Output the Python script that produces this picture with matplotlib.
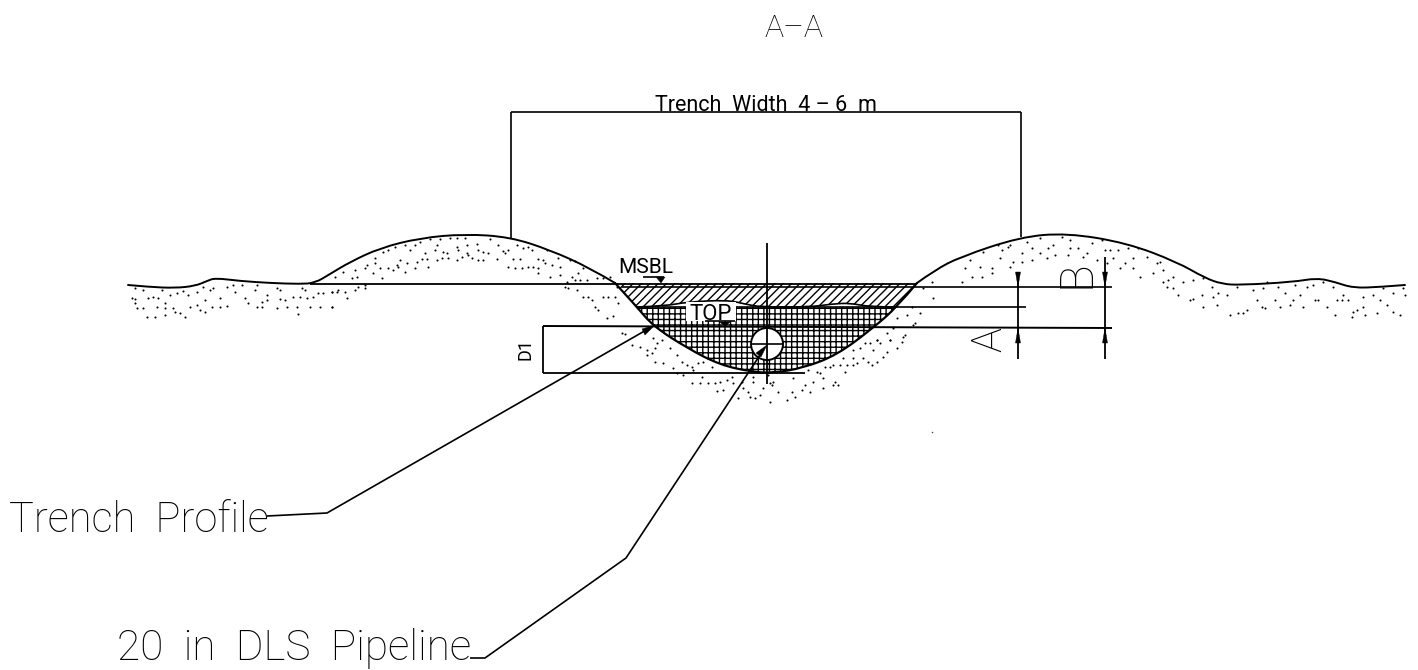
import numpy as np
import matplotlib
matplotlib.use("Agg")
import matplotlib.pyplot as plt
from matplotlib.path import Path
from matplotlib.patches import PathPatch, Polygon, Circle

plt.rcParams['hatch.linewidth'] = 1.0
FONT = ['Roboto', 'Liberation Sans', 'DejaVu Sans']

# ---- profile lines (image pixels) ----
ground_left = [(128, 285), (150, 287), (175, 288), (195, 286), (207, 281), (215, 278), (240, 281), (270, 283),
               (300, 284), (315, 283), (330, 274), (350, 262), (380, 248), (420, 238), (465, 234), (510, 237),
               (550, 250), (590, 268), (615, 283)]
trench = [(615, 283), (637, 307), (653, 326), (687, 348), (720, 365), (753, 372), (773, 373), (803, 368),
          (837, 355), (873, 328), (897, 307), (917, 283)]
ground_right = [(917, 283), (935, 270), (960, 257), (1020, 237), (1067, 233), (1127, 243), (1177, 262),
                (1205, 278), (1222, 284), (1240, 285), (1293, 282), (1317, 278), (1335, 282), (1353, 288),
                (1380, 287), (1405, 285)]
top_of_pipe_fill = [(637, 307), (665, 306), (687, 302), (727, 300), (745, 304), (760, 307), (810, 307),
                    (832, 304), (850, 303), (870, 307), (897, 307)]

dots_west_band = [(35,70),(45,85),(50,100),(70,100),(80,125),(105,125),(135,120),(85,70),(100,65),(115,70),(135,85),
                  (135,100),(160,100),(165,110),(180,115),(195,125),(150,60),(170,55),(190,48),(205,60),(210,95),
                  (230,90),(240,105),(255,110),(275,97),(300,97),(320,92),(300,70),(255,75),(270,45),(280,40),(320,35),
                  (340,30),(345,50),(365,30),(375,70),(385,85),(410,95),(425,95),(440,75),(405,45),(410,30),(480,72),
                  (495,75),(520,65),(540,65),(560,70),(580,65),(595,55),(610,55),(635,50),(655,45),(545,40),(555,45),
                  (470,40),(480,45),(470,98),(500,95),(530,95),(535,118),(570,97),(600,97),(635,97),(45,40),(70,45),
                  (125,45),(250,35),(230,50),(45,72),(110,95),(425,80),(440,60)]
dots_west_mound = [(15,125),(40,110),(65,130),(80,125),(75,105),(105,100),(110,90),(135,70),(135,85),(130,115),(155,130),
                   (150,100),(175,100),(190,105),(200,90),(210,75),(205,95),(230,85),(225,110),(255,100),(260,80),(275,72),
                   (290,72),(295,95),(320,75),(335,70),(355,70),(380,75),(395,65),(415,60),(425,70),(445,75),(460,75),
                   (500,72),(285,55),(240,45),(225,30),(195,35),(175,45),(160,50),(255,30),(270,20),(300,12),(330,12),
                   (360,10),(380,8),(405,10),(320,30),(315,45),(340,50),(350,55),(380,35),(385,45),(410,30),(410,55),
                   (440,28),(445,45),(460,50),(475,55),(480,12),(505,30),(520,48),(535,45),(525,55),(560,30),(580,40),
                   (595,35),(605,45),(550,72),(570,72),(625,72),(640,75),(650,45),(645,85),(665,90),(685,70),(690,95),
                   (690,120),(660,125),(535,97),(555,100),(575,100),(595,97),(610,97),(625,100),(625,115),(720,75),
                   (735,78),(760,100),(745,115),(725,125),(710,140),(735,135),(750,135),(770,135),(800,128),(820,130),
                   (840,125),(5,172),(20,172),(45,170),(50,190),(75,165),(85,155),(105,150),(105,160),(5,215),(705,155),
                   (715,160),(740,165),(760,185),(775,185),(785,195),(820,185),(835,185),(855,185),(795,215),(805,225),
                   (830,250),(850,242),(865,205),(860,155)]
dots_below = [(5,40),(15,42),(35,75),(60,82),(80,90),(80,105),(95,100),(105,85),(125,60),(100,55),(110,70),(150,85),
              (170,105),(105,125),(130,130),(160,145),(185,125),(200,135),(215,140),(220,150),(235,130),(250,125),
              (275,140),(170,160),(190,165),(245,170),(215,190),(240,190),(265,190),(285,190),(300,185),(320,180),
              (335,170),(340,190),(290,212),(310,210),(365,185),(370,205),(385,215),(400,170),(400,185),(355,235),
              (390,230),(405,235),(420,225),(430,205),(450,190),(460,185),(445,165),(455,195),(450,245),(475,215),
              (500,240),(515,215),(525,230),(545,210),(555,195),(520,175),(570,215),(580,185),(610,205),(640,195),
              (655,195),(645,185),(610,175),(590,155),(600,160),(565,150),(630,140),(615,140),(640,135),(660,135),
              (680,135),(700,135),(710,130),(675,155),(670,115),(700,115),(730,115),(745,125),(755,135),(770,125),
              (790,110),(800,95),(760,90),(750,70),(770,60),(780,70),(735,70),(720,85),(810,60),(830,85),(845,65),
              (855,45),(820,25),(885,10),(700,90)]
dots_mid = [(1150,320),(1180,285),(1200,250),(1160,255),(1210,175),(1235,155),(1240,205),(1110,330),(1120,290),
            (1100,310),(1070,330),(1130,265),(1175,230)]
dots_east = [(5,185),(35,170),(65,170),(95,160),(15,145),(60,140),(95,145),(30,120),(70,95),(115,75),(120,115),
             (150,140),(160,125),(145,80),(185,100),(200,65),(215,85),(215,120),(240,55),(265,85),(260,115),(285,105),
             (305,50),(330,60),(325,105),(355,85),(380,100),(395,70),(425,60),(435,90),(450,90),(475,90),(505,85),
             (535,85),(460,115),(495,130),(520,145),(540,170),(560,110),(590,130),(610,150),(580,160),(480,145),
             (610,185),(620,200),(640,170),(670,185),(700,180),(730,175),(640,205),(655,225),(690,240),(725,225),
             (730,260),(755,200),(775,220),(770,255),(800,225),(810,285),(835,280),(860,270),(830,200),(880,210),
             (910,205),(890,240),(915,265),(960,262),(990,255),(1030,260),(945,240),(975,220),(1005,195),(1040,200),
             (1060,195),(1075,240),(1100,260),(1120,200),(1150,225),(1125,285),(1175,290),(1215,285),(1250,280),
             (1190,270),(1210,260),(1280,255),(1300,275),(1320,285),(1260,240),(1300,220),(1335,225),(1270,205),
             (1240,225),(1210,230),(1165,240),(1130,240),(1090,185),(1020,225),(1000,240),(920,185),(955,200),
             (125,90),(150,75),(185,125),(240,100),(280,75),(330,85),(370,110),(410,120),(440,130),(520,115),(600,125),
             (625,180),(700,238),(760,230),(850,280),(905,262),(1065,240),(1145,240),(1180,275),(1330,205)]
dot_sets = [(dots_west_band, (120, 275)), (dots_west_mound, (330, 235)), (dots_below, (620, 320)),
            (dots_mid, (520, 230)), (dots_east, (960, 220))]

title = "A–A"
width_label = "Trench  Width  4 – 6  m"
seabed_label = "MSBL"
top_label = "TOP"
depth_label = "D1"
dim_a = "A"
dim_b = "B"
trench_label = "Trench  Profile"
pipe_label = "20  in  DLS  Pipeline"


def smooth(points):
    """Quadratic spline path with the read points as control points."""
    pts = [tuple(p) for p in points]
    verts, codes = [pts[0]], [Path.MOVETO]
    for i in range(1, len(pts) - 1):
        mid = ((pts[i][0] + pts[i + 1][0]) / 2, (pts[i][1] + pts[i + 1][1]) / 2)
        if i == len(pts) - 2:
            mid = pts[-1]
        verts += [pts[i], mid]
        codes += [Path.CURVE3, Path.CURVE3]
    return verts, codes


def curve(ax, pts, lw=1.4, **kw):
    v, c = smooth(pts)
    ax.add_patch(PathPatch(Path(v, c), fill=False, lw=lw, edgecolor='black', capstyle='round', **kw))


def line(ax, xs, ys, lw=1.2, z=4):
    ax.plot(xs, ys, color='black', lw=lw, solid_capstyle='butt', zorder=z)


def tri(ax, pts, z=6):
    ax.add_patch(Polygon(pts, closed=True, facecolor='black', edgecolor='black', lw=0.3, zorder=z))


fig = plt.figure(figsize=(14.18, 6.70), dpi=100)
ax = fig.add_axes([0, 0, 1, 1])
ax.set_xlim(0, 1418)
ax.set_ylim(670, 0)
ax.axis('off')

# stipple
for dots, (ox, oy) in dot_sets:
    arr = np.array(dots, dtype=float)
    ax.scatter(ox + arr[:, 0] / 3, oy + arr[:, 1] / 3, s=2.2, color='black', linewidths=0, zorder=2)
ax.scatter([932], [432], s=1.2, color='#444444', linewidths=0)

# hatched backfill
v_tr, c_tr = smooth(trench[1:-1])
v_top, c_top = smooth(top_of_pipe_fill)
lower = Path(v_tr + [(637, 307)], c_tr + [Path.LINETO])
ax.add_patch(PathPatch(lower, facecolor='none', edgecolor='black', hatch='+++', lw=0, zorder=3))
v_rev = [(615, 283)] + v_top + [(917, 283), (615, 283)]
c_rev = [Path.MOVETO, Path.LINETO] + c_top[1:] + [Path.LINETO, Path.CLOSEPOLY]
ax.add_patch(PathPatch(Path(v_rev, c_rev), facecolor='white', edgecolor='black', hatch='////', lw=0, zorder=3.2))
curve(ax, top_of_pipe_fill, lw=1.2, zorder=4)

# outlines
curve(ax, ground_left, zorder=5)
curve(ax, trench, lw=1.6, zorder=5)
curve(ax, ground_right, zorder=5)

# horizontals
line(ax, [310, 917], [284, 284], lw=1.3)
line(ax, [622, 1112], [287, 287], lw=1.2)
line(ax, [637, 1026], [307, 307], lw=1.2)
line(ax, [543, 1112], [326, 328], lw=1.4)
line(ax, [543, 805], [373, 373], lw=1.3)
line(ax, [543, 543], [326, 373], lw=1.3)

# top dimension
line(ax, [511, 1021], [112, 112], lw=1.2)
line(ax, [511, 511], [112, 238], lw=1.2)
line(ax, [1021, 1021], [112, 237], lw=1.2)

# pipe
ax.add_patch(Circle((767, 344), 16, facecolor='white', edgecolor='black', lw=1.4, zorder=7))
line(ax, [751, 783], [344, 344], lw=1.2, z=8)
line(ax, [767, 767], [243, 384], lw=1.3, z=8)

# TOP label with white backing
ax.add_patch(Polygon([(686, 302), (736, 302), (736, 321), (686, 321)], facecolor='white', edgecolor='none', zorder=5.5))
ax.text(711, 320, top_label, family=FONT, fontsize=16, ha='center', va='baseline', zorder=6)
line(ax, [705, 735], [321, 321], lw=1.2, z=6)
tri(ax, [(720, 322), (730, 322), (725, 327)])

# MSBL
ax.text(646, 273, seabed_label, family=FONT, fontsize=15, ha='center', va='baseline')
line(ax, [643, 664], [277, 277], lw=1.2)
tri(ax, [(656, 277), (665, 277), (661, 283)])

# right dimensions
line(ax, [1018, 1018], [277, 359], lw=1.3)
line(ax, [1105, 1105], [257, 359], lw=1.3)
for x in (1018, 1105):
    tri(ax, [(x - 2.5, 272), (x + 2.5, 272), (x, 287)])
    tri(ax, [(x - 2.5, 343), (x + 2.5, 343), (x, 328)])

# leaders
line(ax, [267, 327, 648], [516, 513, 329], lw=1.2, z=8)
tri(ax, [(655, 325), (642, 329), (645, 335)], z=8)
line(ax, [470, 485, 626, 762], [658, 658, 558, 352], lw=1.2, z=8)
tri(ax, [(767, 345), (756, 353), (761, 357)], z=9)

# text
ax.text(794, 37, title, family=FONT, fontsize=23, ha='center', va='baseline', fontweight='light')
ax.text(766, 111, width_label, family=FONT, fontsize=15.5, ha='center', va='baseline')
ax.text(535, 349, depth_label, family=FONT, fontsize=13, rotation=90, ha='right', va='center')
ax.text(1010, 340, dim_a, family=FONT, fontsize=30, rotation=90, ha='right', va='center', fontweight='light')
ax.text(1099, 274, dim_b, family=FONT, fontsize=33, rotation=90, ha='right', va='center', fontweight='light')
ax.text(9, 532, trench_label, family=FONT, fontsize=30, ha='left', va='baseline', fontweight='light')
ax.text(117, 660, pipe_label, family=FONT, fontsize=30.5, ha='left', va='baseline', fontweight='light')

fig.savefig('out.png', dpi=100, facecolor='white')
